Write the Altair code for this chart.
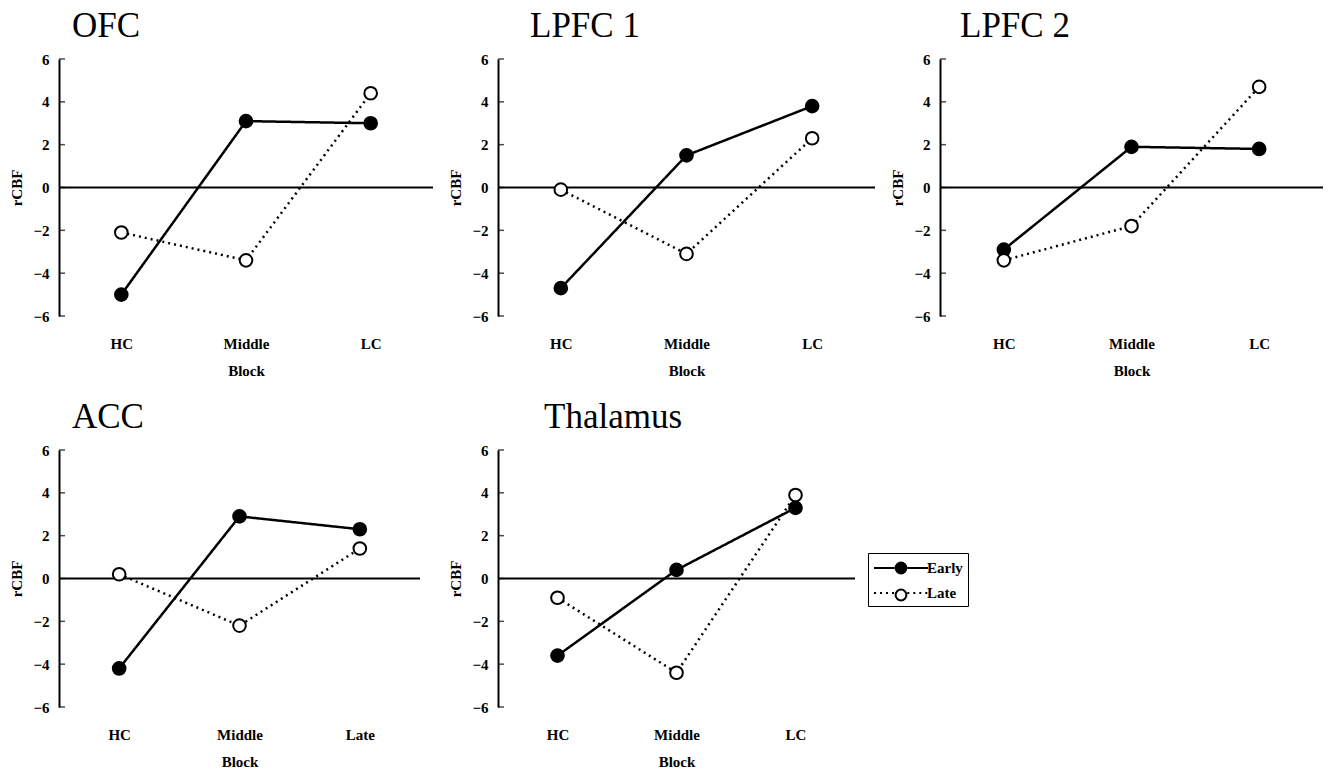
import altair as alt
import pandas as pd

# ---- data ----
blocks = ["HC", "Middle", "LC"]
acc_blocks = ["HC", "Middle", "Late"]
series_names = ["Early", "Late"]
marker_names = ["early_marker", "late_marker"]
y_ticks = [-6, -4, -2, 0, 2, 4, 6]

ofc_early = [-5.0, 3.1, 3.0]
ofc_late = [-2.1, -3.4, 4.4]
lpfc1_early = [-4.7, 1.5, 3.8]
lpfc1_late = [-0.1, -3.1, 2.3]
lpfc2_early = [-2.9, 1.9, 1.8]
lpfc2_late = [-3.4, -1.8, 4.7]
acc_early = [-4.2, 2.9, 2.3]
acc_late = [0.2, -2.2, 1.4]
thal_early = [-3.6, 0.4, 3.3]
thal_late = [-0.9, -4.4, 3.9]

FONT = "Liberation Serif"
H = 257


def panel(title, cats, early, late, w, dx, legend=False):
    n = len(cats)
    df = pd.DataFrame({
        "block": cats + cats,
        "value": early + late,
        "series": [series_names[0]] * n + [series_names[1]] * n,
        "marker": [marker_names[0]] * n + [marker_names[1]] * n,
    })

    x = alt.X("block:N", sort=cats,
              scale=alt.Scale(type="point", padding=0.5),
              axis=alt.Axis(title="Block", labelAngle=0, domain=False, ticks=False,
                            labelPadding=20, titlePadding=12))
    yscale = alt.Scale(domain=[-6, 6], nice=False, zero=False)
    y = alt.Y("value:Q", scale=yscale,
              axis=alt.Axis(title="rCBF", values=y_ticks, domain=True, domainWidth=2,
                            domainColor="black", ticks=False, grid=False,
                            labelPadding=10, titlePadding=8))

    if legend:
        dash_legend = alt.Legend(orient="none", legendX=370, legendY=103, title=None,
                                 symbolType="M-1,0H1.3M2.7,0H5", symbolSize=324,
                                 symbolStrokeColor="black", symbolStrokeWidth=2,
                                 symbolFillColor="transparent", labelOffset=34,
                                 labelFont=FONT, labelFontSize=15, labelFontWeight="bold",
                                 labelColor="black", strokeColor="black", padding=5,
                                 rowPadding=7, zindex=0)
        fill_legend = alt.Legend(orient="none", legendX=370, legendY=103, title=None,
                                 symbolType="M1.4,0A0.6,0.6 0 1,1 2.6,0A0.6,0.6 0 1,1 1.4,0",
                                 symbolSize=324, symbolStrokeColor="black",
                                 symbolStrokeWidth=2, labelExpr="''", labelOffset=34,
                                 labelFontSize=15, padding=5, rowPadding=7, zindex=1)
    else:
        dash_legend = None
        fill_legend = None

    lines = alt.Chart(df).mark_line(color="black", strokeWidth=2.5).encode(
        x=x, y=y,
        strokeDash=alt.StrokeDash("series:N",
                                  scale=alt.Scale(domain=series_names, range=[[1, 0], [2, 4]]),
                                  legend=dash_legend),
        detail="series:N",
    )
    points = alt.Chart(df).mark_point(filled=True, size=160, stroke="black",
                                      strokeWidth=2, opacity=1).encode(
        x=x, y=y,
        fill=alt.Fill("marker:N",
                      scale=alt.Scale(domain=marker_names, range=["black", "white"]),
                      legend=fill_legend),
    )
    zero = alt.Chart(pd.DataFrame({"z": [0]})).mark_rule(color="black", strokeWidth=2).encode(
        y=alt.Y("z:Q", scale=yscale, title="rCBF")
    )
    ticks = alt.Chart(pd.DataFrame({"t": y_ticks})).mark_tick(
        orient="horizontal", size=6, thickness=1.5, color="black").encode(
        y=alt.Y("t:Q", scale=yscale, title="rCBF"), x=alt.value(3)
    )
    return alt.layer(zero, ticks, lines, points).properties(
        width=w, height=H,
        title=alt.TitleParams(title, anchor="start", frame="group", dx=dx, offset=8,
                              font=FONT, fontSize=35, fontWeight="normal", color="black"),
    )


chart = alt.concat(
    panel("OFC", blocks, ofc_early, ofc_late, 374, 13),
    panel("LPFC 1", blocks, lpfc1_early, lpfc1_late, 377, 32),
    panel("LPFC 2", blocks, lpfc2_early, lpfc2_late, 383, 20),
    panel("ACC", acc_blocks, acc_early, acc_late, 361, 13),
    panel("Thalamus", blocks, thal_early, thal_late, 357, 46, legend=True),
    columns=3, spacing={"row": 134, "column": 65}, bounds="flush",
).resolve_scale(
    strokeDash="independent", fill="independent"
).properties(
    padding={"left": 9, "top": 9, "right": 5, "bottom": 5},
    background="white",
).configure_view(strokeWidth=0).configure_axis(
    labelFont=FONT, labelFontSize=15, labelFontWeight="bold", labelColor="black",
    titleFont=FONT, titleFontSize=15, titleFontWeight="bold", titleColor="black",
)

chart.save("out.html", embed_options={"renderer": "svg", "actions": False})
